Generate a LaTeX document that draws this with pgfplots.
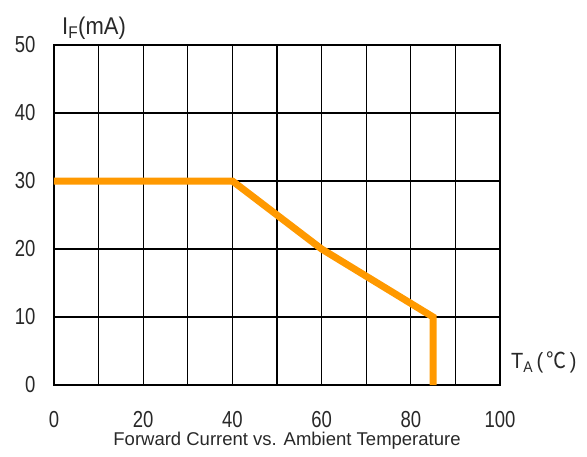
\documentclass[border=0pt]{standalone}
\usepackage{pgfplots}
\pgfplotsset{compat=1.18}
\usepackage{fontspec}
\setmainfont{Liberation Sans}
\newfontfamily\cjk{Noto Sans CJK SC}
\definecolor{lineorange}{RGB}{255,153,0}
\definecolor{txt}{RGB}{40,40,40}
\begin{document}
\begin{tikzpicture}[x=1pt,y=1pt]
\useasboundingbox (0,0) rectangle (587,-457);
\begin{axis}[
  at={(54pt,-385pt)}, anchor=south west,
  scale only axis, width=446pt, height=340pt,
  xmin=0, xmax=100, ymin=0, ymax=50,
  xtick={0,20,...,100}, ytick={0,10,...,50},
  minor xtick={10,30,...,90},
  grid=both,
  major grid style={black, line width=1.3pt},
  minor grid style={black, line width=1.3pt},
  axis line style={black, line width=1.3pt},
  major tick length=0pt, minor tick length=0pt,
  /pgf/number format/assume math mode=true,
  ticklabel style={font=\fontsize{18.5}{20}\selectfont, text=txt},
  xticklabel={\scalebox{1}[1.25]{\pgfmathprintnumber{\tick}}},
  yticklabel={\scalebox{1}[1.25]{\pgfmathprintnumber{\tick}}},
  xticklabel style={yshift=-23pt},
  yticklabel style={xshift=-15pt},
]
\addplot[lineorange, line width=7pt, line join=miter] coordinates {(0,30) (40,30) (60,20) (85,10) (85,0)};
\end{axis}
\node[anchor=base west, inner sep=0, text=txt, font=\fontsize{22}{24}\selectfont] at (62,-35) {\scalebox{1}[1.1]{I\textsubscript{F}(mA)}};
\node[anchor=base west, inner sep=0, text=txt, font=\fontsize{20}{22}\selectfont] at (511,-369) {\scalebox{1}[1.1]{T\textsubscript{A}\,(\,{\cjk ℃}\,)}};
\node[anchor=base, inner sep=0, text=txt, font=\fontsize{18.5}{20}\selectfont] at (287,-446) {Forward Current vs. Ambient Temperature};
\end{tikzpicture}
\end{document}
